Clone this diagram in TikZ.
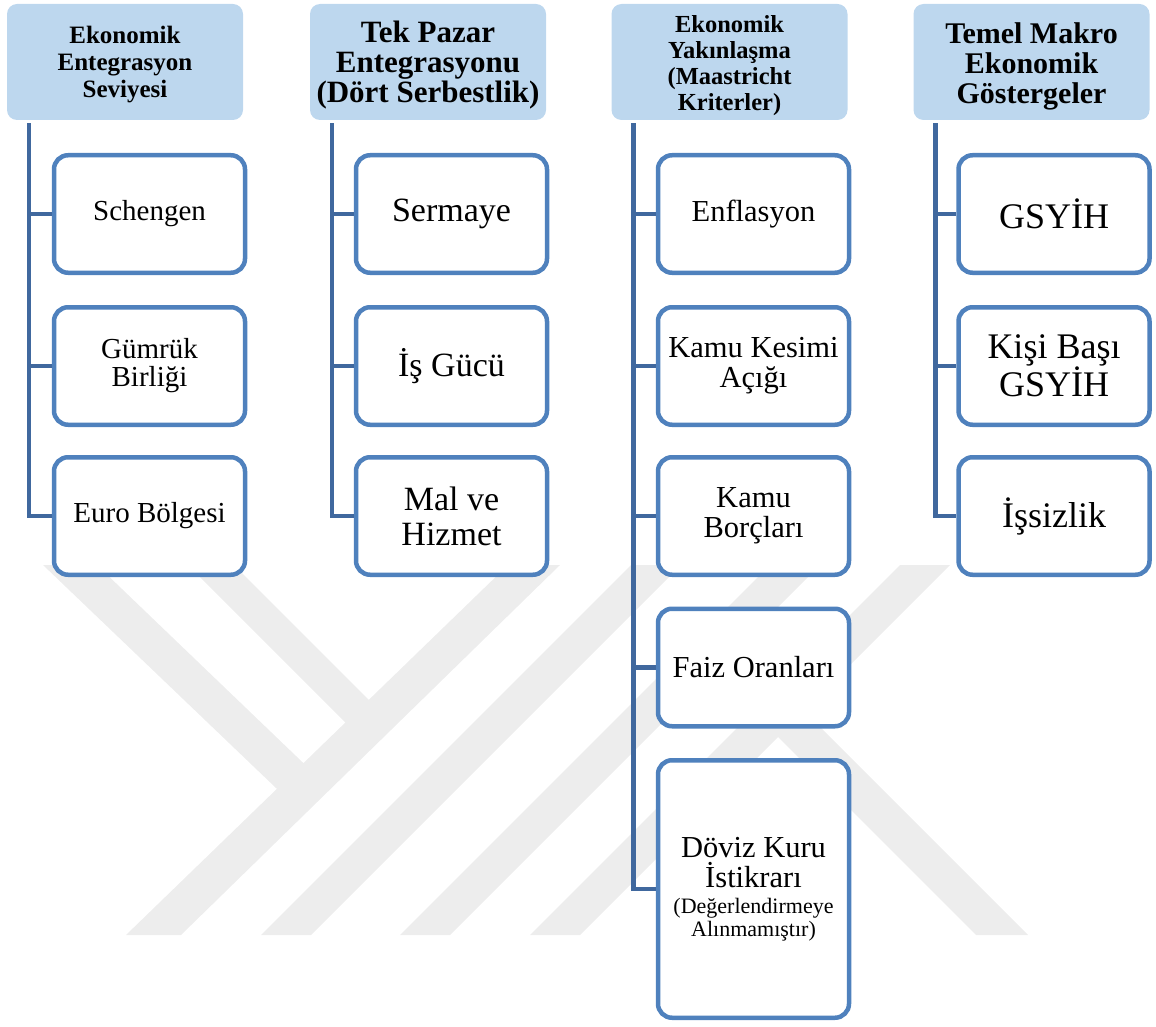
\documentclass[tikz,border=0pt]{standalone}
\usepackage{fontspec}
\setmainfont{Liberation Serif}
\definecolor{hdr}{RGB}{189,215,238}
\definecolor{bord}{RGB}{79,129,189}
\definecolor{connc}{RGB}{64,104,158}
\definecolor{wmark}{RGB}{237,237,237}
\begin{document}
\begin{tikzpicture}[x=1pt,y=-1pt,
  hdrbox/.style={fill=hdr, rounded corners=10pt, minimum width=236pt, minimum height=116pt, inner sep=0pt},
  hdrtext/.style={inner sep=0pt, align=center},
  kid/.style={draw=bord, line width=4.5pt, fill=white, rounded corners=14pt, minimum width=191pt, minimum height=117.5pt, inner sep=0pt, align=center},
  tallkid/.style={kid, minimum height=257.5pt},
  link/.style={draw=connc, line width=4.5pt},
  wm/.style={fill=wmark}]
\useasboundingbox (0,0) rectangle (1156,1027);
% watermark
\fill[wm] (126,935) -- (181,935) -- (560,565) -- (508,565) -- cycle;
\fill[wm] (43,565) -- (97,565) -- (321,780) -- (299,810) -- cycle;
\fill[wm] (188,565) -- (234,565) -- (384,715) -- (363,740) -- cycle;
\fill[wm] (261,935) -- (311,935) -- (681,565) -- (631,565) -- cycle;
\fill[wm] (400,935) -- (450,935) -- (820,565) -- (770,565) -- cycle;
\fill[wm] (530,935) -- (580,935) -- (950,565) -- (900,565) -- cycle;
\fill[wm] (976,935) -- (1028,935) -- (793,700) -- (771,730) -- cycle;
% headers
\node[hdrbox] (h1) at (125,62) {};
\node[hdrbox] (h2) at (428,62) {};
\node[hdrbox] (h3) at (729.5,62) {};
\node[hdrbox] (h4) at (1031.5,62) {};
\node[hdrtext, font=\bfseries\fontsize{25}{27}\selectfont] (h1t) at ([yshift=-3pt]h1.center) {Ekonomik\\Entegrasyon\\Seviyesi};
\node[hdrtext, font=\bfseries\fontsize{31}{30}\selectfont] (h2t) at ([yshift=-3pt]h2.center) {Tek Pazar\\Entegrasyonu\\(Dört Serbestlik)};
\node[hdrtext, font=\bfseries\fontsize{24.5}{26}\selectfont] (h3t) at ([yshift=-4pt]h3.center) {Ekonomik\\Yakınlaşma\\(Maastricht\\Kriterler)};
\node[hdrtext, font=\bfseries\fontsize{30}{30}\selectfont] (h4t) at ([yshift=-4pt]h4.center) {Temel Makro\\Ekonomik\\Göstergeler};
% column 1
\node[kid, font=\fontsize{29}{28}\selectfont] (c11) at (149.5,214) {Schengen};
\node[kid, font=\fontsize{29}{28}\selectfont] (c12) at (149.5,366) {Gümrük\\Birliği};
\node[kid, font=\fontsize{29}{28}\selectfont] (c13) at (149.5,516) {Euro Bölgesi};
% column 2
\node[kid, font=\fontsize{34}{35}\selectfont] (c21) at (451.5,214) {Sermaye};
\node[kid, font=\fontsize{34}{35}\selectfont] (c22) at (451.5,366) {İş Gücü};
\node[kid, font=\fontsize{34}{35}\selectfont] (c23) at (451.5,516) {Mal ve\\Hizmet};
% column 3
\node[kid, font=\fontsize{30.5}{30}\selectfont] (c31) at (753.5,214) {Enflasyon};
\node[kid, font=\fontsize{30.5}{30}\selectfont] (c32) at (753.5,366) {Kamu Kesimi\\Açığı};
\node[kid, font=\fontsize{30.5}{30}\selectfont] (c33) at (753.5,516) {Kamu\\Borçları};
\node[kid, font=\fontsize{30.5}{30}\selectfont] (c34) at (753.5,667.5) {Faiz Oranları};
\node[tallkid, font=\fontsize{30.5}{30}\selectfont] (c35) at (753.5,889) {Döviz Kuru\\İstikrarı\\[-4pt]\fontsize{22}{23}\selectfont(Değerlendirmeye\\[-7pt]\fontsize{22}{23}\selectfont Alınmamıştır)};
% column 4
\node[kid, font=\fontsize{36}{34}\selectfont] (c41) at (1054,214) {GSYİH};
\node[kid, font=\fontsize{36}{34}\selectfont] (c42) at (1054,366) {Kişi Başı\\GSYİH};
\node[kid, font=\fontsize{36}{34}\selectfont] (c43) at (1054,516) {İşsizlik};
% connectors
\coordinate (v1) at ([xshift=22pt,yshift=-3pt]h1.south west);
\coordinate (v2) at ([xshift=22pt,yshift=-3pt]h2.south west);
\coordinate (v3) at ([xshift=22pt,yshift=-3pt]h3.south west);
\coordinate (v4) at ([xshift=22pt,yshift=-3pt]h4.south west);
\draw[link] (v1) |- (c13.west);
\draw[link] (c11.west) -- (c11.west -| v1);
\draw[link] (c12.west) -- (c12.west -| v1);
\draw[link] (v2) |- (c23.west);
\draw[link] (c21.west) -- (c21.west -| v2);
\draw[link] (c22.west) -- (c22.west -| v2);
\draw[link] (v3) |- (c35.west);
\draw[link] (c31.west) -- (c31.west -| v3);
\draw[link] (c32.west) -- (c32.west -| v3);
\draw[link] (c33.west) -- (c33.west -| v3);
\draw[link] (c34.west) -- (c34.west -| v3);
\draw[link] (v4) |- (c43.west);
\draw[link] (c41.west) -- (c41.west -| v4);
\draw[link] (c42.west) -- (c42.west -| v4);
\end{tikzpicture}
\end{document}
